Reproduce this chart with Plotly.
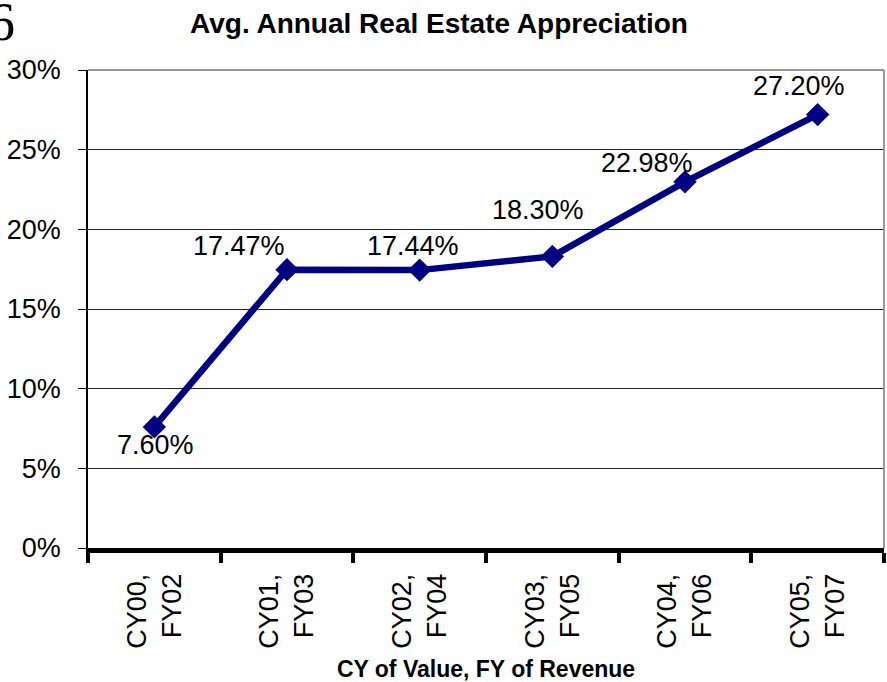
import plotly.graph_objects as go

categories = ["CY00,<br>FY02", "CY01,<br>FY03", "CY02,<br>FY04", "CY03,<br>FY05", "CY04,<br>FY06", "CY05,<br>FY07"]
values = [7.60, 17.47, 17.44, 18.30, 22.98, 27.20]
label_texts = ["7.60%", "17.47%", "17.44%", "18.30%", "22.98%", "27.20%"]
label_dx = [1, -48, -7, -14, -38, -19]
label_dy = [-18, 24, 24, 46, 19, 29]
y_ticks = [0, 5, 10, 15, 20, 25, 30]
y_tick_labels = ["0%", "5%", "10%", "15%", "20%", "25%", "30%"]

NAVY = "#000080"
FONT = "Liberation Sans, Arial, sans-serif"

fig = go.Figure()
fig.add_trace(go.Scatter(
    x=categories, y=values, mode="lines+markers",
    line=dict(color=NAVY, width=6.5),
    marker=dict(symbol="diamond", size=18, color=NAVY),
    hoverinfo="skip", showlegend=False,
))

annotations = []
for c, v, t, dx, dy in zip(categories, values, label_texts, label_dx, label_dy):
    annotations.append(dict(x=c, y=v, xref="x", yref="y", text=t, showarrow=False,
                            xanchor="center", yanchor="middle", xshift=dx, yshift=dy,
                            font=dict(family=FONT, size=27, color="black")))

annotations.append(dict(xref="paper", yref="paper", x=-0.0893, y=1.1, text="6",
                        showarrow=False, xanchor="right", yanchor="middle",
                        font=dict(family="Liberation Serif, Times New Roman, serif", size=54, color="black")))

fig.update_layout(
    width=887, height=682,
    margin=dict(l=88, r=3, t=70, b=134, pad=0, autoexpand=False),
    paper_bgcolor="white", plot_bgcolor="white",
    title=dict(text="<b>Avg. Annual Real Estate Appreciation</b>", x=439 / 887, xref="container",
               xanchor="center", y=1 - 23 / 682, yanchor="middle",
               font=dict(family=FONT, size=28, color="black")),
    annotations=annotations,
    shapes=[
        dict(type="line", xref="paper", yref="paper", x0=0, x1=1, y0=1, y1=1,
             line=dict(color="#999999", width=2), layer="above"),
        dict(type="line", xref="paper", yref="paper", x0=1, x1=1, y0=0, y1=1,
             line=dict(color="#999999", width=2), layer="above"),
    ],
)

fig.update_xaxes(
    type="category", range=[-0.5, 5.5], automargin=False,
    showline=True, linecolor="black", linewidth=5,
    ticks="outside", tickson="boundaries", ticklen=10, tickwidth=4, tickcolor="black",
    tickangle=-90, tickfont=dict(family=FONT, size=27, color="black"),
    ticklabelstandoff=10,
    showgrid=False, zeroline=False,
    title=dict(text="<b>CY of Value, FY of Revenue</b>", font=dict(family=FONT, size=23, color="black"),
               standoff=25),
)
fig.update_yaxes(
    range=[0, 30], tickmode="array", tickvals=y_ticks, ticktext=y_tick_labels, automargin=False,
    showline=True, linecolor="black", linewidth=1.5,
    ticks="outside", ticklen=8, tickwidth=1, tickcolor="black",
    tickfont=dict(family=FONT, size=27, color="black"),
    ticklabelstandoff=12,
    showgrid=True, gridcolor="#222222", gridwidth=1, zeroline=False,
)

fig.write_html("out.html")
